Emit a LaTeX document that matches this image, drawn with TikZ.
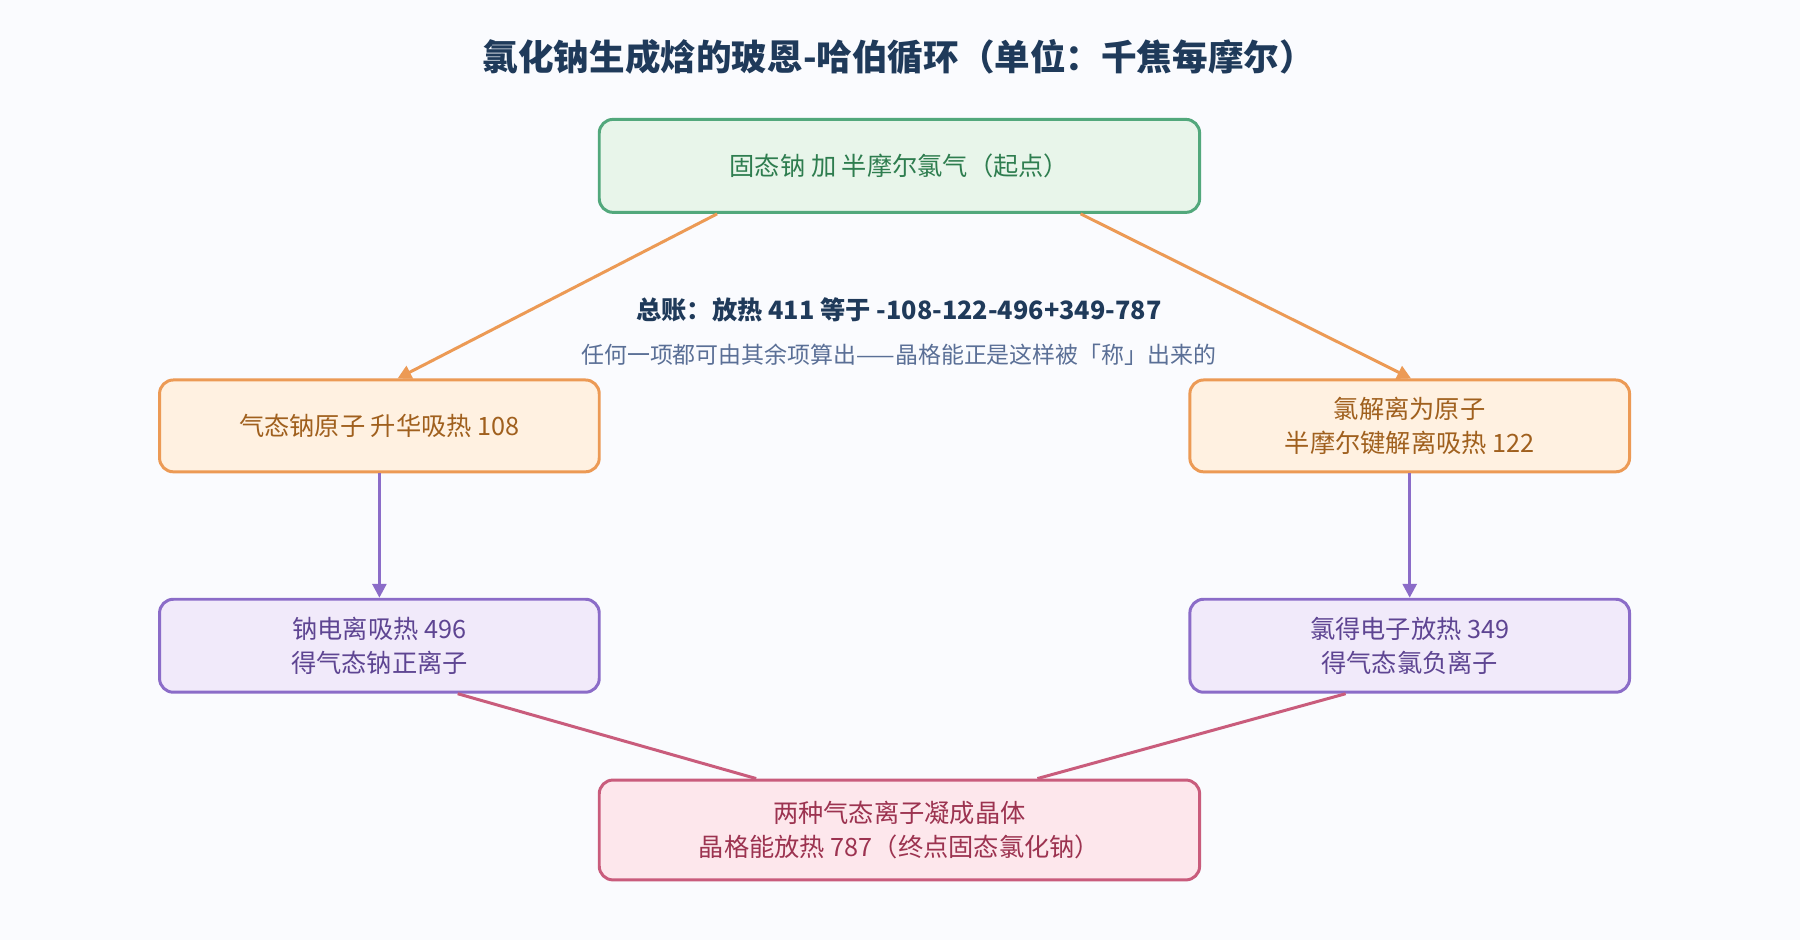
\documentclass[tikz,border=0pt]{standalone}
\usepackage{fontspec}
\setmainfont{Noto Sans CJK SC}
\usetikzlibrary{arrows.meta,calc}
\definecolor{bgc}{HTML}{FAFBFE}
\definecolor{navy}{HTML}{1F3A5A}
\definecolor{gfill}{HTML}{E8F5EA}\definecolor{gline}{HTML}{52A87C}\definecolor{gtext}{HTML}{2E7D4F}
\definecolor{ofill}{HTML}{FFF1E1}\definecolor{oline}{HTML}{EC9A55}\definecolor{otext}{HTML}{A0601E}
\definecolor{pfill}{HTML}{F1EAFA}\definecolor{pline}{HTML}{8B6CC8}\definecolor{ptext}{HTML}{5E4592}
\definecolor{rfill}{HTML}{FDE7EC}\definecolor{rline}{HTML}{C95C7C}\definecolor{rtext}{HTML}{9C3350}
\definecolor{note}{HTML}{5A6F96}
\tikzset{
  cyclebox/.style={draw, line width=2.6pt, rounded corners=12pt, align=center,
    font=\fontsize{22}{30}\selectfont, inner sep=0pt},
  start/.style={cyclebox, fill=gfill, draw=gline, text=gtext, minimum width=523pt, minimum height=81pt},
  atom/.style={cyclebox, fill=ofill, draw=oline, text=otext, minimum width=383pt, minimum height=80pt},
  ion/.style={cyclebox, fill=pfill, draw=pline, text=ptext, minimum width=383pt, minimum height=81pt},
  final/.style={cyclebox, fill=rfill, draw=rline, text=rtext, minimum width=523pt, minimum height=87pt},
  flow/.style={line width=2.6pt, -{Triangle[length=12pt,width=12pt]}}
}
\begin{document}
\begin{tikzpicture}[x=1pt,y=-1pt]
  \fill[bgc] (0,0) rectangle (1568,819);
  \useasboundingbox (0,0) rectangle (1568,819);

  \node[font=\fontsize{31}{36}\selectfont\bfseries, text=navy] (title) at (783,50)
    {氯化钠生成焓的玻恩-哈伯循环（单位：千焦每摩尔）};

  \node[start] (na) at (783.5,144.5) {固态钠 加 半摩尔氯气（起点）};
  \node[atom] (naGas) at (330.5,371) {气态钠原子 升华吸热 108};
  \node[atom] (clAtom) at (1228,371) {氯解离为原子\\半摩尔键解离吸热 122};
  \node[ion] (naIon) at (330.5,562.5) {钠电离吸热 496\\得气态钠正离子};
  \node[ion] (clIon) at (1228,562.5) {氯得电子放热 349\\得气态氯负离子};
  \node[final] (nacl) at (783.5,723) {两种气态离子凝成晶体\\晶格能放热 787（终点固态氯化钠）};

  \node[font=\fontsize{22}{26}\selectfont\bfseries, text=navy] (sum) at (783,270)
    {总账：放热 411 等于 -108-122-496+349-787};
  \node[font=\fontsize{20}{24}\selectfont, text=note] (hint) at (783,309)
    {任何一项都可由其余项算出——晶格能正是这样被「称」出来的};

  % arrows of the cycle
  \draw[flow, oline] ($(na.south west)+(104,0)$) -- ($(naGas.north east)+(-177,0)$);
  \draw[flow, oline] ($(na.south east)+(-105,0)$) -- ($(clAtom.north west)+(194,0)$);
  \draw[flow, pline] (naGas) -- (naIon);
  \draw[flow, pline] (clAtom) -- (clIon);
  \draw[line width=2.6pt, rline] ($(naIon.south west)+(261,0)$) -- ($(nacl.north west)+(138,0)$);
  \draw[line width=2.6pt, rline] ($(clIon.south west)+(137,0)$) -- ($(nacl.north west)+(383,0)$);
\end{tikzpicture}
\end{document}
